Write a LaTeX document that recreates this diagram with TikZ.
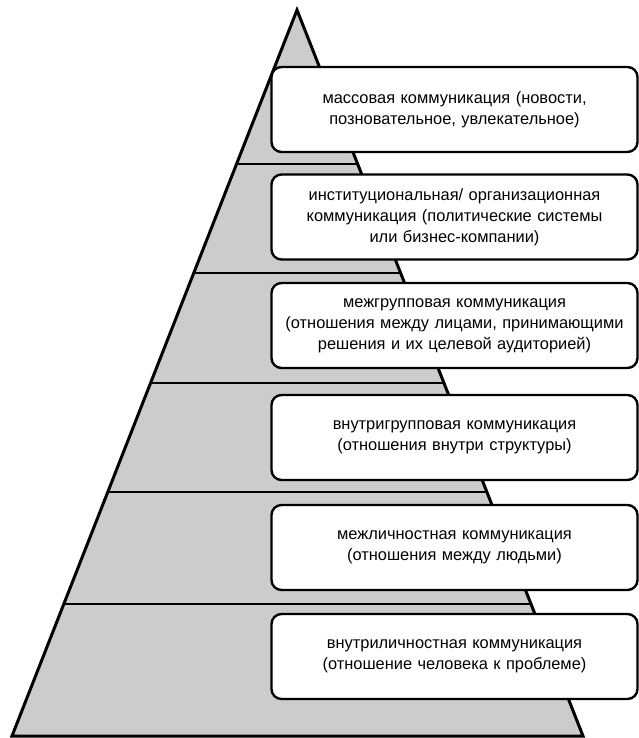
\documentclass[tikz,border=0pt]{standalone}
\usepackage{fontspec}
\setmainfont{Liberation Sans}
\usetikzlibrary{backgrounds}

\begin{document}
\begin{tikzpicture}[x=1pt,y=-1pt,
    levelbox/.style={draw,line width=2.4pt,rounded corners=10pt,fill=white,
      minimum width=365pt,minimum height=85pt,inner sep=2pt,
      text width=362pt,align=center,font=\boxfontsize}]
    \pgfmathsetmacro{\apexx}{297}
    \pgfmathsetmacro{\apexy}{10}
    \pgfmathsetmacro{\baseleft}{12}
    \pgfmathsetmacro{\baseright}{583}
    \pgfmathsetmacro{\basey}{736}
    \pgfmathsetmacro{\boxx}{454.5}
    \providecommand{\boxfontsize}{\fontsize{16.4}{21.2}\selectfont}
    \useasboundingbox (0,0) rectangle (638,738);
    % pyramid with its level lines
    \fill[black!20] (\apexx,\apexy) -- (\baseright,\basey) -- (\baseleft,\basey) -- cycle;
    \begin{scope}
      \clip (\apexx,\apexy) -- (\baseright,\basey) -- (\baseleft,\basey) -- cycle;
      \foreach \ly in {164,273,383,492,604}
        \draw[line width=2pt] (0,\ly) -- (638,\ly);
    \end{scope}
    \draw[line width=3pt,line join=miter] (\apexx,\apexy) -- (\baseright,\basey) -- (\baseleft,\basey) -- cycle;
    % level boxes
    \node[levelbox] (mass) at (\boxx,109.5) {массовая коммуникация (новости,\\позновательное, увлекательное)};
    \node[levelbox] (inst) at (\boxx,217) {институциональная/ организационная\\коммуникация (политические системы\\или бизнес-компании)};
    \node[levelbox] (intergroup) at (\boxx,325.5) {межгрупповая коммуникация\\(отношения между лицами, принимающими\\решения и их целевой аудиторией)};
    \node[levelbox] (intragroup) at (\boxx,437.5) {внутригрупповая коммуникация\\(отношения внутри структуры)};
    \node[levelbox] (interpers) at (\boxx,547.5) {межличностная коммуникация\\(отношения между людьми)};
    \node[levelbox] (intrapers) at (\boxx,656.5) {внутриличностная коммуникация\\(отношение человека к проблеме)};
\end{tikzpicture}
\end{document}
